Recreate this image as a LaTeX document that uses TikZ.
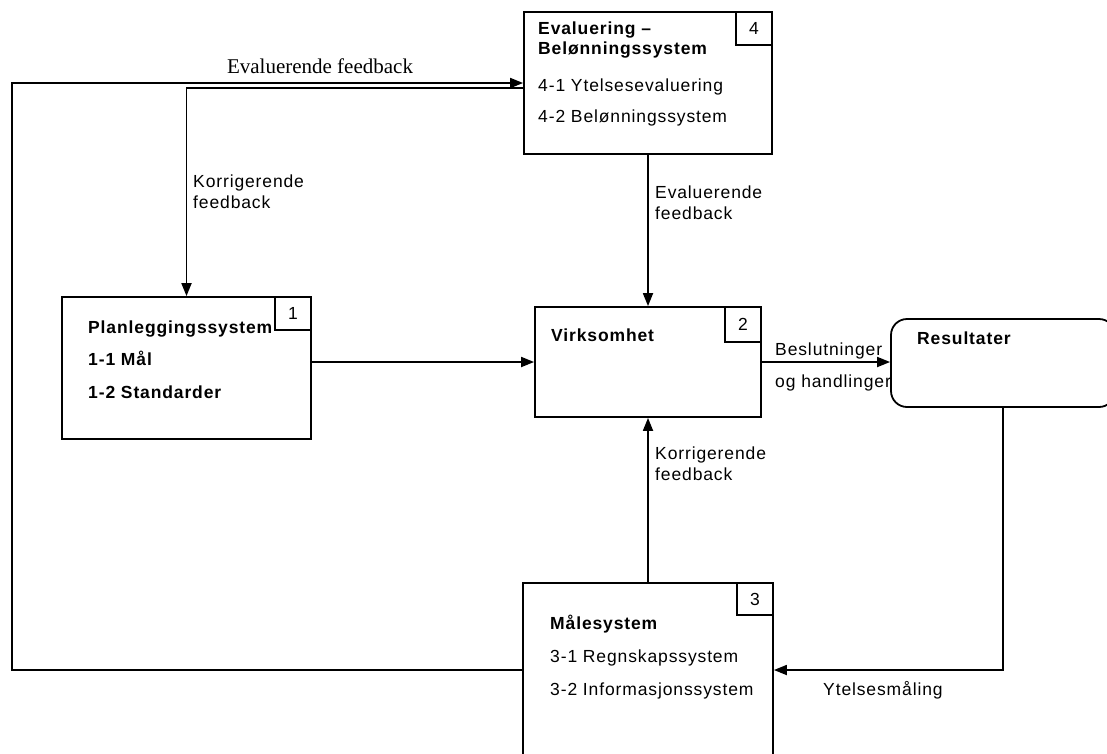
\documentclass[tikz,border=0pt]{standalone}
\usepackage{fontspec}
\setmainfont{Liberation Sans}[LetterSpace=5]
\newfontfamily\serifface{Liberation Serif}
\usetikzlibrary{arrows.meta,calc}
\tikzset{
  sysbox/.style={draw, line width=1.8pt, fill=white, inner sep=0pt},
  tagbox/.style={draw, line width=1.8pt, minimum width=36pt, minimum height=33pt, inner sep=0pt, anchor=north east, font=\fontsize{17.5}{20}\selectfont},
  flow/.style={line width=1.8pt, -{Triangle[length=13pt,width=10pt]}},
  link/.style={line width=1.8pt},
  txt/.style={anchor=base west, inner sep=0pt, font=\fontsize{17.5}{20}\selectfont},
  boldtxt/.style={txt, font=\fontsize{17.5}{20}\selectfont\bfseries},
  lbl/.style={anchor=west, inner sep=0pt, align=left, font=\fontsize{17.5}{21}\selectfont},
}
\begin{document}
\begin{tikzpicture}[x=1pt,y=-1pt]
\useasboundingbox (0,0) rectangle (1107,753);
\clip (0,0) rectangle (1107,753);

% boxes
\node[sysbox, minimum width=248pt, minimum height=142pt] (eval) at (648,83) {};
\node[sysbox, minimum width=249pt, minimum height=142pt] (plan) at (186.5,368) {};
\node[sysbox, minimum width=226pt, minimum height=110pt] (virk) at (648,362) {};
\node[sysbox, minimum width=250pt, minimum height=174pt] (maal) at (648,670) {};
\node[sysbox, rounded corners=16pt, minimum width=224pt, minimum height=88pt] (res) at (1003,363) {};

% numbers
\node[tagbox] (n4) at (eval.north east) {4};
\node[tagbox] (n1) at (plan.north east) {1};
\node[tagbox, minimum height=35pt] (n2) at (virk.north east) {2};
\node[tagbox, minimum height=32pt] (n3) at (maal.north east) {3};

% box texts
\node[boldtxt] (e1) at (538,34) {Evaluering –};
\node[boldtxt] (e2) at (538,54) {Belønningssystem};
\node[txt] (e3) at (538,91) {4-1 Ytelsesevaluering};
\node[txt] (e4) at (538,122) {4-2 Belønningssystem};
\node[boldtxt] (p1) at (88,333) {Planleggingssystem};
\node[boldtxt] (p2) at (88,365) {1-1 Mål};
\node[boldtxt] (p3) at (88,398) {1-2 Standarder};
\node[boldtxt] (v1) at (551,341) {Virksomhet};
\node[boldtxt] (r1) at (917,344) {Resultater};
\node[boldtxt] (m1) at (550,629) {Målesystem};
\node[txt] (m2) at (550,662) {3-1 Regnskapssystem};
\node[txt] (m3) at (550,695) {3-2 Informasjonssystem};

% connectors
\coordinate (lft) at (12,83);
\draw[flow] (maal.west) -| (lft) -- (eval.west);
\draw[flow] ($(eval.west)+(0,5)$) -| (plan.north);
\draw[flow] (plan.east |- virk.west) -- (virk.west);
\draw[flow] (eval.south) -- (virk.north);
\draw[flow] (maal.north) -- (virk.south);
\draw[flow] (virk.east) -- (virk.east -| res.west);
\draw[flow] (res.south) |- (maal.east);

% connector labels
\node[anchor=base, inner sep=0pt, font=\serifface\fontsize{21}{24}\selectfont] (fb0) at (320,73) {Evaluerende feedback};
\node[lbl] (fb1) at (193,192) {Korrigerende\\feedback};
\node[lbl] (fb2) at (655,203) {Evaluerende\\feedback};
\node[lbl] (fb3) at (655,464) {Korrigerende\\feedback};
\node[txt] (b1) at (775,355) {Beslutninger};
\node[txt] (b2) at (775,387) {og handlinger};
\node[txt] (y1) at (823,695) {Ytelsesmåling};
\end{tikzpicture}
\end{document}
